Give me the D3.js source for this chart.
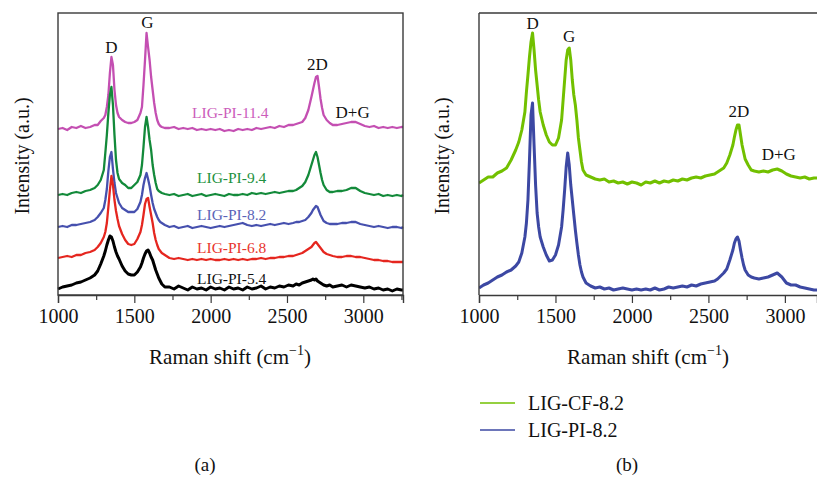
<!DOCTYPE html>
<html><head><meta charset="utf-8">
<script src="https://cdn.jsdelivr.net/npm/d3@7"></script>
<style>
html,body{margin:0;padding:0;background:#fff;}
svg text{font-family:"Liberation Serif","Times New Roman",serif;}
</style></head>
<body><svg id="chart" width="817" height="479"></svg>
<script>
// Raman shift grid (cm^-1)
const ramanShift = [1000,1030,1060,1090,1120,1150,1180,1210,1240,1260,1280,1300,
 1310,1320,1330,1340,1350,1360,1370,1380,1390,1400,
 1420,1440,1460,1480,1500,1520,1540,
 1550,1560,1570,1580,1590,1600,1610,1620,1630,1640,1650,1660,1670,1680,1700,
 1730,1760,1790,1820,1850,1880,1910,1940,1970,2000,2030,2060,2090,2120,2150,2180,2210,2240,2270,2300,2330,2360,2390,2420,2450,2480,2510,2540,
 2560,2580,2600,2620,2640,2660,
 2670,2680,2690,2700,2710,2720,2730,2740,
 2760,2780,2800,
 2830,2860,2890,2920,2950,2980,3010,3040,3070,3100,3130,3160,3190,3220,3250,
 3260];

// Panel (a) intensities (a.u., stacked with offsets as plotted)
const pi114 = [166,167,165,168,167,169,167,168,170,170,174,177,
 180,188,200,222,238,230,205,190,182,178,
 175,173,172,172,173,175,182,
 188,210,235,262,248,235,218,205,192,182,175,171,169,168,167,
 167,168,166,167,166,167,165,166,165,166,165,166,164,165,164,166,165,166,165,167,166,167,168,167,169,168,170,170,
 171,172,173,177,185,198,
 205,212,218,219,208,196,187,180,
 175,172,170,
 170,171,172,173,173,171,169,168,169,167,168,167,168,167,168,
 168];
const pi94 = [100,101,100,102,103,102,104,105,107,110,115,125,
 142,160,182,200,208,190,160,135,122,116,
 112,110,107,107,110,113,120,
 130,148,168,178,168,155,145,130,120,112,106,104,103,102,101,
 100,101,99,100,101,99,100,101,99,100,101,100,99,101,100,100,101,100,102,101,102,101,102,103,102,103,104,104,
 105,107,109,113,120,130,
 135,140,143,138,130,122,115,110,
 105,103,103,
 104,104,105,107,107,104,102,101,100,101,99,100,99,100,99,
 100];
const pi82 = [68,69,68,70,70,71,72,73,75,78,82,87,
 95,106,124,138,143,126,112,102,97,92,
 87,85,83,83,83,86,93,
 100,110,117,122,116,109,100,92,86,82,78,75,73,72,70,
 68,69,67,68,69,67,68,69,68,67,68,69,68,69,70,71,72,70,69,70,69,70,71,70,71,72,71,72,
 73,73,74,75,78,82,
 85,87,89,88,84,80,77,74,
 72,71,71,
 71,72,72,73,73,71,70,69,68,69,68,67,68,68,67,
 68];
const pi68 = [37,38,39,38,40,40,42,43,45,48,52,58,
 63,72,88,105,119,110,95,84,76,69,
 61,55,51,50,51,56,63,
 70,80,91,96,97,88,80,72,62,55,50,46,44,42,40,
 37,36,37,36,35,36,35,36,35,36,35,35,36,35,36,35,36,35,36,36,37,36,37,37,38,38,39,39,
 40,41,42,44,46,48,
 50,52,53,51,49,47,45,43,
 41,40,39,
 38,38,39,39,38,38,37,36,35,35,34,34,33,33,33,
 33];
const pi54 = [6,8,9,10,12,13,15,17,20,24,31,39,
 44,50,55,59,58,54,48,43,39,36,
 29,24,21,20,20,23,28,
 32,37,41,44,45,42,38,35,30,25,21,17,14,11,8,
 8,6,9,7,5,8,6,7,5,8,6,7,5,8,6,7,5,8,6,7,9,6,8,7,9,8,10,9,
 11,10,12,13,14,15,
 16,15,16,14,13,12,11,10,
 9,10,8,
 9,10,8,10,9,8,7,8,6,7,5,6,4,6,5,
 5];

// Panel (b) intensities
const cf82 = [112,115,118,118,122,124,127,135,145,153,165,183,
 203,220,238,253,262,245,225,210,195,183,
 170,160,153,150,150,157,175,
 195,215,235,245,247,235,215,200,190,175,157,145,133,125,120,
 118,116,115,116,113,114,112,113,111,113,112,110,113,112,114,112,114,113,115,114,116,115,117,118,117,119,120,121,
 123,125,127,132,140,150,
 158,165,170,170,160,150,143,136,
 130,125,124,
 123,124,123,125,126,124,121,119,118,117,118,116,117,117,118,
 117];
const pi82b = [7,10,12,15,18,20,23,25,29,33,42,58,
 72,95,135,180,192,150,110,82,68,58,
 48,40,34,35,40,50,68,
 85,105,128,142,130,110,95,80,65,52,40,30,23,18,12,
 9,7,8,6,7,5,6,7,6,5,6,5,6,5,7,5,6,8,7,8,9,8,10,9,11,12,13,14,
 16,19,22,26,35,45,
 52,56,58,54,45,37,30,25,
 20,18,17,
 16,17,18,20,22,18,12,10,10,8,7,6,5,5,5,
 5];

const seriesNamesA = ["LIG-PI-11.4","LIG-PI-9.4","LIG-PI-8.2","LIG-PI-6.8","LIG-PI-5.4"];
const seriesNamesB = ["LIG-CF-8.2","LIG-PI-8.2"];
const peakLabels = ["D","G","2D","D+G"];
const xTicks = [1000,1500,2000,2500,3000];
const xMinorTicks = [1250,1750,2250,2750,3250];

const colorsA = ["#C44FB2","#138A3A","#4650AE","#E5261F","#000000"];
const textColorsA = ["#CC5CBB","#1E9140","#5A63B8","#E8342C","#111111"];
const colorsB = ["#72C000","#3C48A3"];

const svg = d3.select("#chart");
const axisColor = "#3a3a3a";

function drawAxis(g, x, y0){
  const ax = g.append("g").attr("transform",`translate(0,${y0})`)
    .call(d3.axisBottom(x).tickValues(xTicks).tickSize(8).tickPadding(6).tickFormat(d3.format("d")));
  ax.select(".domain").attr("stroke",axisColor).attr("stroke-width",1.4);
  ax.selectAll(".tick line").attr("stroke",axisColor).attr("stroke-width",1.2);
  ax.selectAll(".tick text").attr("font-size",20).attr("fill","#111")
    .style("font-family","'Liberation Serif',serif");
  const mn = g.append("g").attr("transform",`translate(0,${y0})`)
    .call(d3.axisBottom(x).tickValues(xMinorTicks.filter(v=>v<=x.domain()[1])).tickSize(5).tickFormat(""));
  mn.select(".domain").remove();
  mn.selectAll(".tick line").attr("stroke",axisColor).attr("stroke-width",1.2);
}

function titles(g, cx, xL){
  const t = g.append("text").attr("x",cx).attr("y",364).attr("text-anchor","middle")
    .attr("font-size",21).attr("fill","#111");
  t.append("tspan").text("Raman shift (cm");
  t.append("tspan").text("\u22121").attr("font-size",14).attr("dy",-9);
  t.append("tspan").text(")").attr("dy",9);
  g.append("text").attr("transform",`translate(${xL},156) rotate(-90)`)
    .attr("text-anchor","middle").attr("font-size",20).attr("fill","#111").text("Intensity (a.u.)");
}

// ---------- Panel (a) ----------
const xA = d3.scaleLinear().domain([1000,3260]).range([58,403]);
const yA = d3.scaleLinear().domain([0,282]).range([295,13]);
const gA = svg.append("g");
const seriesA = [pi114, pi94, pi82, pi68, pi54];
const lineA = d3.line().x((d,i)=>xA(ramanShift[i])).y(d=>yA(d));
seriesA.forEach((s,k)=>{
  gA.append("path").datum(s).attr("d",lineA).attr("fill","none")
    .attr("stroke",colorsA[k]).attr("stroke-width",k===4?3:2.3).attr("stroke-linejoin","round");
});
gA.append("rect").attr("x",58).attr("y",13).attr("width",345).attr("height",282)
  .attr("fill","none").attr("stroke",axisColor).attr("stroke-width",1.4);
drawAxis(gA, xA, 295);
titles(gA, 230, 29);
const labelPosA = [[192,118],[197,183],[197,220],[197,253],[197,284]];
seriesNamesA.forEach((n,k)=>{
  gA.append("text").attr("x",labelPosA[k][0]).attr("y",labelPosA[k][1]).attr("font-size",15.5)
    .attr("fill",textColorsA[k]).text(n);
});
const peakPosA = [[1350,53],[1585,28],[2700,70],[2930,118]];
peakLabels.forEach((p,k)=>{
  gA.append("text").attr("x",xA(peakPosA[k][0])).attr("y",peakPosA[k][1]).attr("text-anchor","middle")
    .attr("font-size",17).attr("fill","#111").text(p);
});
gA.append("text").attr("x",205).attr("y",471).attr("text-anchor","middle").attr("font-size",19).attr("fill","#111").text("(a)");

// ---------- Panel (b) ----------
const xB = d3.scaleLinear().domain([1000,3210]).range([479,817]);
const yB = yA;
const gB = svg.append("g");
svg.append("defs").append("clipPath").attr("id","clipB").append("rect")
  .attr("x",479).attr("y",0).attr("width",340).attr("height",300);
const lineB = d3.line().x((d,i)=>xB(ramanShift[i])).y(d=>yB(d));
[cf82, pi82b].forEach((s,k)=>{
  gB.append("path").datum(s).attr("d",lineB).attr("fill","none").attr("clip-path","url(#clipB)")
    .attr("stroke",colorsB[k]).attr("stroke-width",3).attr("stroke-linejoin","round");
});
gB.append("line").attr("x1",479).attr("x2",479).attr("y1",13).attr("y2",295).attr("stroke",axisColor).attr("stroke-width",1.4);
gB.append("line").attr("x1",479).attr("x2",817).attr("y1",13).attr("y2",13).attr("stroke",axisColor).attr("stroke-width",1.4);
drawAxis(gB, xB, 295);
titles(gB, 648, 449);
const peakPosB = [[1350,29],[1590,42],[2700,117],[2960,160]];
peakLabels.forEach((p,k)=>{
  gB.append("text").attr("x",xB(peakPosB[k][0])).attr("y",peakPosB[k][1]).attr("text-anchor","middle")
    .attr("font-size",17).attr("fill","#111").text(p);
});
// legend
const legY = [403,430];
seriesNamesB.forEach((n,k)=>{
  gB.append("line").attr("x1",480).attr("x2",515).attr("y1",legY[k]).attr("y2",legY[k])
    .attr("stroke",colorsB[k]).attr("stroke-width",1.6);
  gB.append("text").attr("x",528).attr("y",legY[k]+7).attr("font-size",20).attr("fill","#111").text(n);
});
gB.append("text").attr("x",627).attr("y",471).attr("text-anchor","middle").attr("font-size",19).attr("fill","#111").text("(b)");
</script></body></html>
